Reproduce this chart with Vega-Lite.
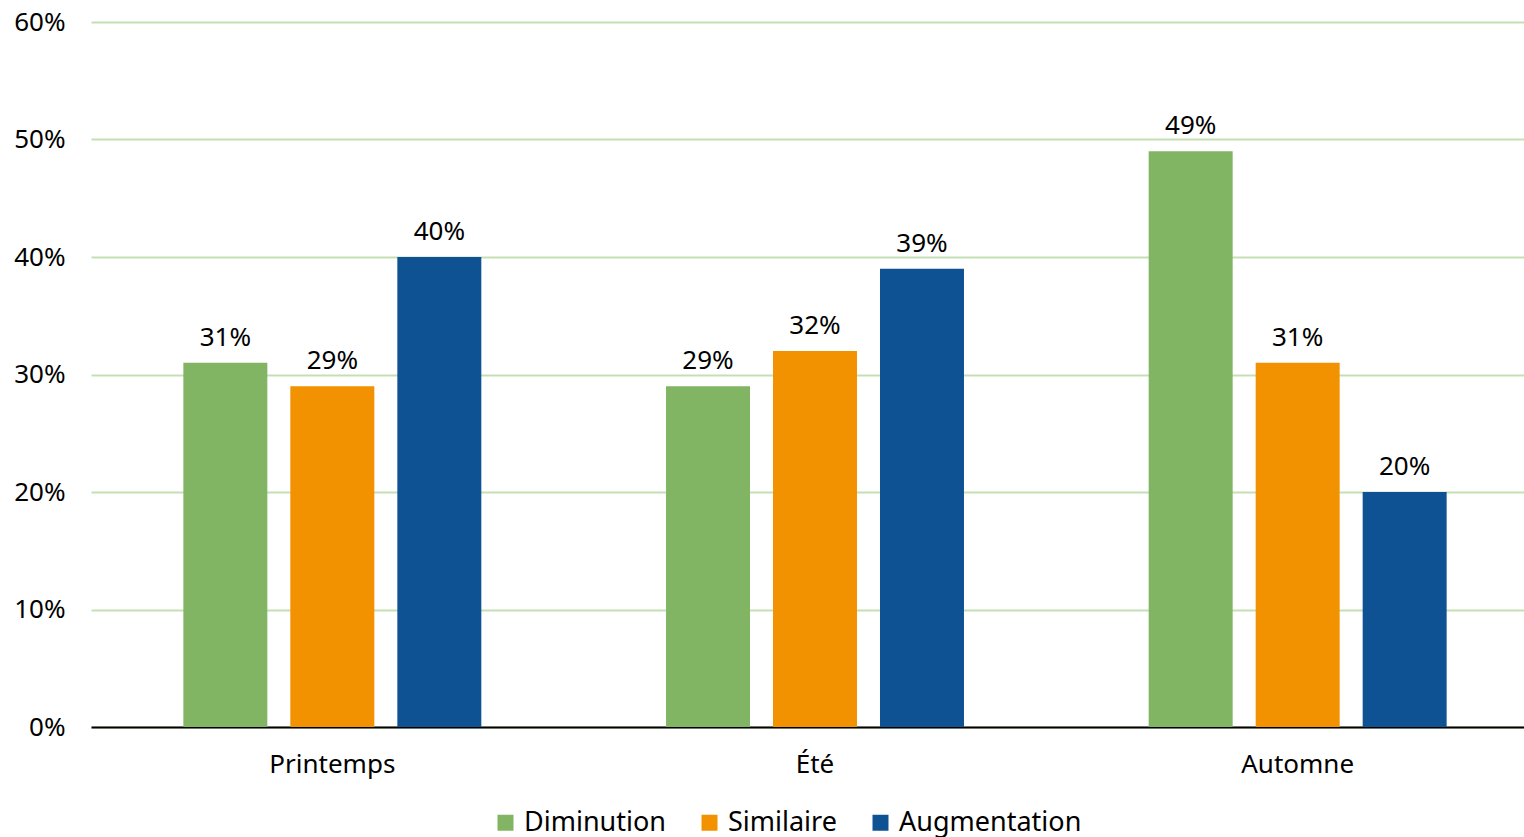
{
  "$schema": "https://vega.github.io/schema/vega-lite/v6.json",
  "autosize": {"type": "none"},
  "width": 1433,
  "height": 705,
  "padding": {"left": 91, "top": 22, "right": 0, "bottom": 110},
  "background": "white",
  "config": {
    "font": "Noto Sans",
    "view": {"stroke": null}
  },
  "data": {
    "values": [
      {"saison": "Printemps", "evolution": "Diminution", "valeur": 0.31},
      {"saison": "Printemps", "evolution": "Similaire", "valeur": 0.29},
      {"saison": "Printemps", "evolution": "Augmentation", "valeur": 0.40},
      {"saison": "Été", "evolution": "Diminution", "valeur": 0.29},
      {"saison": "Été", "evolution": "Similaire", "valeur": 0.32},
      {"saison": "Été", "evolution": "Augmentation", "valeur": 0.39},
      {"saison": "Automne", "evolution": "Diminution", "valeur": 0.49},
      {"saison": "Automne", "evolution": "Similaire", "valeur": 0.31},
      {"saison": "Automne", "evolution": "Augmentation", "valeur": 0.20}
    ]
  },
  "encoding": {
    "x": {
      "field": "saison", "type": "nominal", "sort": ["Printemps", "Été", "Automne"],
      "scale": {"range": [0, 1448], "paddingInner": 0.337, "paddingOuter": 0.1685},
      "axis": {"title": null, "labelAngle": 0, "labelFontSize": 26, "labelColor": "#000000", "labelPadding": 24, "ticks": false, "domainColor": "#000000", "domainWidth": 2}
    },
    "xOffset": {
      "field": "evolution", "type": "nominal", "sort": ["Diminution", "Similaire", "Augmentation"],
      "scale": {"paddingInner": 0.215, "paddingOuter": 0.103}
    },
    "y": {
      "field": "valeur", "type": "quantitative",
      "scale": {"domain": [0, 0.6], "nice": false},
      "axis": {"title": null, "format": ".0%", "values": [0, 0.1, 0.2, 0.3, 0.4, 0.5, 0.6], "labelFontSize": 26, "labelColor": "#000000", "labelPadding": 26, "ticks": false, "domain": false, "grid": true, "gridColor": "#C5DFB4", "gridWidth": 2}
    }
  },
  "layer": [
    {
      "mark": {"type": "bar"},
      "encoding": {
        "color": {
          "field": "evolution", "type": "nominal", "sort": ["Diminution", "Similaire", "Augmentation"],
          "scale": {"domain": ["Diminution", "Similaire", "Augmentation"], "range": ["#82B563", "#F39200", "#0F5294"]},
          "legend": {
            "title": null, "orient": "none", "direction": "horizontal", "legendX": 401, "legendY": 787,
            "symbolType": "square", "symbolSize": 256, "symbolStrokeWidth": 0, "labelFontSize": 27, "labelColor": "#000000",
            "labelOffset": 5, "labelLimit": 0, "columnPadding": 30
          }
        }
      }
    },
    {
      "mark": {"type": "text", "fontSize": 26, "baseline": "alphabetic", "dy": -17, "color": "#000000"},
      "encoding": {
        "text": {"field": "valeur", "type": "quantitative", "format": ".0%"}
      }
    }
  ]
}
